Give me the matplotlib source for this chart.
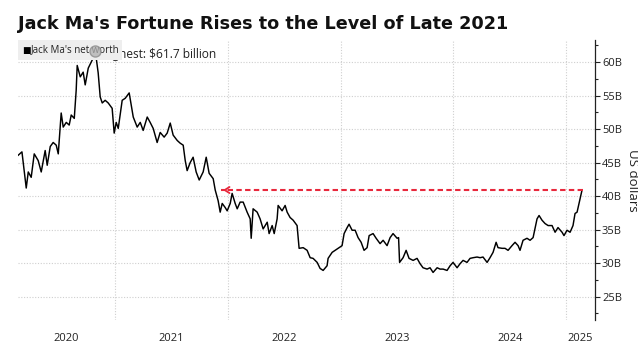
import matplotlib
matplotlib.use("Agg")
import matplotlib.pyplot as plt
from matplotlib.patches import Rectangle
import numpy as np

# ---- data (decimal years, billions USD) ----
years = [2020.140, 2020.173, 2020.184, 2020.211, 2020.229, 2020.255, 2020.282, 2020.317,
         2020.344, 2020.379, 2020.397, 2020.424, 2020.450, 2020.477, 2020.495, 2020.521,
         2020.539, 2020.566, 2020.592, 2020.610, 2020.637, 2020.654, 2020.663, 2020.690,
         2020.716, 2020.734, 2020.761, 2020.796, 2020.823, 2020.849, 2020.867, 2020.885,
         2020.911, 2020.938, 2020.973, 2020.991, 2021.009, 2021.027, 2021.062, 2021.089,
         2021.124, 2021.160, 2021.195, 2021.222, 2021.248, 2021.284, 2021.310, 2021.337,
         2021.372, 2021.399, 2021.434, 2021.461, 2021.488, 2021.514, 2021.550, 2021.576,
         2021.603, 2021.621, 2021.638, 2021.665, 2021.691, 2021.718, 2021.745, 2021.780,
         2021.807, 2021.833, 2021.869, 2021.887, 2021.913, 2021.931, 2021.949, 2021.975,
         2021.993, 2022.020, 2022.037, 2022.064, 2022.082, 2022.108, 2022.135, 2022.170,
         2022.197, 2022.206, 2022.223, 2022.259, 2022.285, 2022.312, 2022.348, 2022.365,
         2022.392, 2022.410, 2022.436, 2022.445, 2022.480, 2022.507, 2022.525, 2022.551,
         2022.578, 2022.613, 2022.631, 2022.667, 2022.702, 2022.729, 2022.755, 2022.791,
         2022.817, 2022.844, 2022.879, 2022.888, 2022.924, 2022.950, 2022.977, 2023.012,
         2023.030, 2023.057, 2023.074, 2023.101, 2023.128, 2023.154, 2023.181, 2023.207,
         2023.234, 2023.252, 2023.287, 2023.314, 2023.349, 2023.376, 2023.411, 2023.438,
         2023.464, 2023.500, 2023.513, 2023.522, 2023.553, 2023.580, 2023.606, 2023.642,
         2023.677, 2023.704, 2023.730, 2023.766, 2023.792, 2023.819, 2023.855, 2023.881,
         2023.908, 2023.943, 2023.970, 2023.996, 2024.032, 2024.058, 2024.085, 2024.120,
         2024.147, 2024.174, 2024.209, 2024.236, 2024.262, 2024.298, 2024.324, 2024.351,
         2024.378, 2024.395, 2024.431, 2024.457, 2024.484, 2024.519, 2024.546, 2024.573,
         2024.590, 2024.617, 2024.652, 2024.679, 2024.706, 2024.741, 2024.759, 2024.785,
         2024.812, 2024.839, 2024.874, 2024.901, 2024.927, 2024.963, 2024.980, 2025.007,
         2025.034, 2025.060, 2025.078, 2025.096, 2025.113, 2025.140]
net_worth = [46.1, 46.6, 45.0, 41.2, 43.6, 42.8, 46.3, 45.3,
             43.6, 46.8, 44.6, 47.4, 48.0, 47.6, 46.3, 52.4,
             50.3, 51.0, 50.6, 52.1, 51.6, 55.8, 59.5, 57.8,
             58.5, 56.6, 59.1, 60.3, 61.7, 58.4, 54.8, 53.9,
             54.3, 53.9, 53.1, 49.4, 51.0, 50.1, 54.3, 54.6,
             55.4, 51.8, 50.3, 51.0, 49.8, 51.8, 51.0, 50.1,
             48.0, 49.5, 48.8, 49.4, 50.9, 49.1, 48.3, 47.9,
             47.6, 45.3, 43.8, 45.0, 45.8, 43.6, 42.4, 43.6,
             45.8, 43.4, 42.6, 40.9, 39.3, 37.6, 38.9, 38.3,
             37.8, 38.9, 40.4, 38.9, 38.1, 39.1, 39.1, 37.6,
             36.6, 33.7, 38.1, 37.6, 36.6, 35.1, 36.1, 34.4,
             35.6, 34.4, 36.6, 38.6, 37.8, 38.6, 37.6, 36.8,
             36.4, 35.6, 32.2, 32.3, 31.9, 30.8, 30.7, 30.1,
             29.2, 28.9, 29.6, 30.7, 31.6, 31.9, 32.2, 32.6,
             34.4, 35.3, 35.8, 34.9, 34.9, 33.8, 33.1, 31.9,
             32.3, 34.1, 34.4, 33.7, 32.9, 33.4, 32.6, 33.8,
             34.4, 33.7, 33.8, 30.1, 30.8, 31.9, 30.7, 30.4,
             30.7, 29.9, 29.3, 29.1, 29.3, 28.6, 29.3, 29.1,
             29.1, 28.9, 29.6, 30.1, 29.3, 29.9, 30.4, 30.1,
             30.7, 30.8, 30.9, 30.8, 30.9, 30.1, 30.8, 31.6,
             33.1, 32.3, 32.2, 32.2, 31.9, 32.6, 33.1, 32.6,
             31.9, 33.4, 33.7, 33.4, 33.8, 36.6, 37.1, 36.4,
             35.9, 35.6, 35.6, 34.6, 35.3, 34.6, 34.1, 34.9,
             34.6, 35.6, 37.4, 37.6, 38.9, 40.9]
y_ticks = [25, 30, 35, 40, 45, 50, 55, 60]
y_tick_labels = ["25B", "30B", "35B", "40B", "45B", "50B", "55B", "60B"]
year_labels = [2020, 2021, 2022, 2023, 2024, 2025]
peak_label = "Highest: $61.7 billion"
ref_level = 40.9          # current level, compared with late 2021
ref_start = 2025.149      # end of dashed line (latest point)
ref_end = 2021.931        # arrow tip (late 2021)

# ---- figure ----
W, H = 638, 345
fig = plt.figure(figsize=(W / 100, H / 100), dpi=100)
ax = fig.add_axes([18 / W, 1 - 320 / H, (595 - 18) / W, (320 - 40) / H])

font = "Open Sans"
xmin, xmax = 2020.138, 2025.255
ax.set_xlim(xmin, xmax)
ax.set_ylim(21.5, 63.3)

# spines
for s in ["left", "top", "bottom"]:
    ax.spines[s].set_visible(False)
ax.spines["right"].set_color("#222222")
ax.spines["right"].set_linewidth(0.9)

# y axis on right
ax.yaxis.tick_right()
ax.set_yticks(y_ticks)
ax.set_yticklabels(y_tick_labels, fontsize=8, family=font, color="#222222")
ax.set_yticks(np.arange(22.5, 63.3, 5), minor=True)
ax.tick_params(axis="y", which="major", direction="out", length=3.5, width=0.8, pad=1.5, colors="#222222")
ax.tick_params(axis="y", which="minor", direction="out", length=2, width=0.8, colors="#222222")
ax.yaxis.set_label_position("right")
ax.set_ylabel("US dollars", fontsize=9.5, family=font, rotation=270, labelpad=12, color="#222222")

# x axis: gridlines at year boundaries, labels centred in visible part of each year
ax.set_xticks(year_labels[1:])
ax.set_xticklabels([])
ax.tick_params(axis="x", which="major", length=0)
centres = [(max(y, xmin) + min(y + 1, xmax)) / 2 for y in year_labels]
ax.set_xticks(centres, minor=True)
ax.set_xticklabels([str(y) for y in year_labels], minor=True, fontsize=8, family=font, color="#222222")
ax.tick_params(axis="x", which="minor", length=0, pad=9.5)

ax.grid(True, which="major", axis="both", color="#cfcfcf", linestyle=(0, (1, 1.5)), linewidth=0.8)
ax.set_axisbelow(True)

# main line
ax.plot(years, net_worth, color="black", linewidth=1.05, zorder=3)

# reference dashed line + arrow head
ax.plot([ref_start, ref_end + 0.01], [ref_level, ref_level], color="#e8283c",
        linewidth=1.5, linestyle=(0, (2.6, 1.6)), zorder=4)
ax.annotate("", xy=(ref_end, ref_level), xytext=(ref_end + 0.06, ref_level),
            arrowprops=dict(arrowstyle="->,head_length=0.35,head_width=0.22",
                            color="#e8283c", linewidth=1.3), zorder=4)

# legend box
ax.add_patch(Rectangle((0, 0.929), 0.18, 0.071, transform=ax.transAxes,
                       facecolor="#eeeeee", edgecolor="none", zorder=5, clip_on=False))
ax.text(0.007, 0.964, "■", transform=ax.transAxes, fontsize=6.5, va="center", ha="left",
        color="black", zorder=6, family="DejaVu Sans")
ax.text(0.022, 0.964, "Jack Ma's net worth", transform=ax.transAxes, fontsize=7,
        va="center", ha="left", color="#222222", family=font, zorder=6)

# peak annotation
i_max = int(np.argmax(net_worth))
ax.text(years[i_max] + 0.05, 61.2, peak_label, fontsize=8.6, family=font,
        va="center", ha="left", color="#222222", zorder=4)
ax.plot(years[i_max], net_worth[i_max], "o", markersize=8, markerfacecolor="#b0b0b0",
        markeredgecolor="#888888", markeredgewidth=1, alpha=0.75, zorder=7)

# title
fig.text(18 / W, 1 - 24 / H, "Jack Ma's Fortune Rises to the Level of Late 2021",
         fontsize=12.7, fontweight="bold", family="DejaVu Sans", va="center", ha="left",
         color="#111111")

fig.savefig("out.png", dpi=100)
